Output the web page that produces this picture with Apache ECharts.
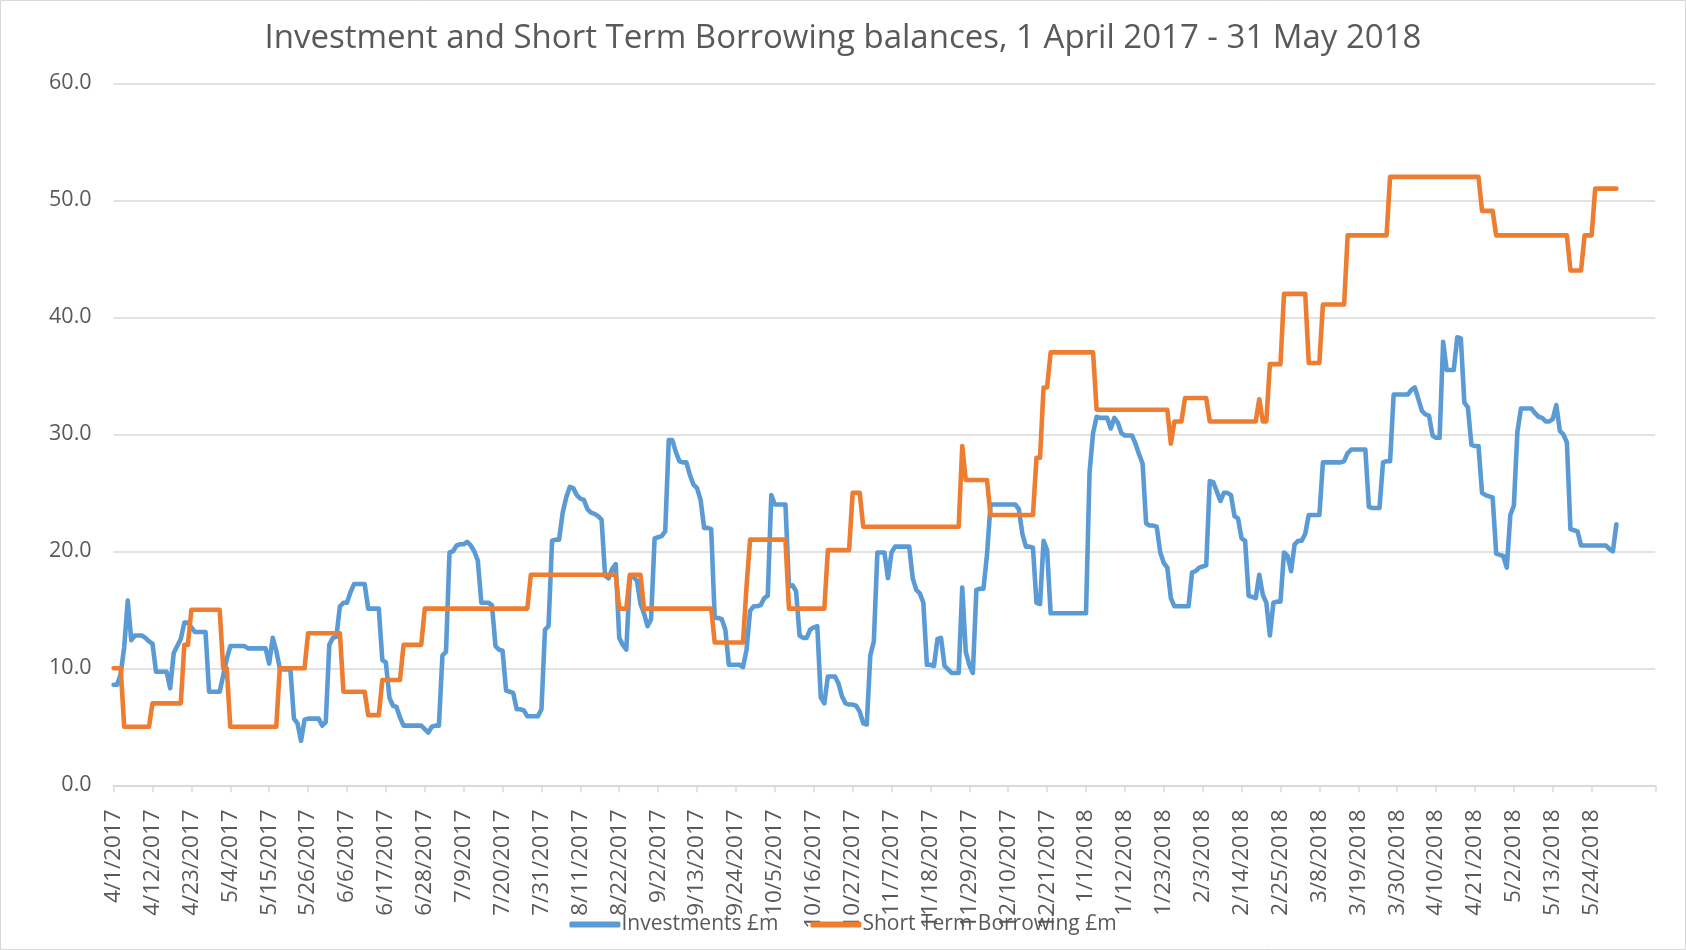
<!DOCTYPE html>
<html><head><meta charset="utf-8">
<script src="https://cdn.jsdelivr.net/npm/echarts@6/dist/echarts.min.js"></script>
<style>html,body{margin:0;padding:0;background:#fff}#c{width:1686px;height:950px}</style>
</head><body><div id="c"></div>
<script>
// ---- data ----
const titleText = 'Investment and Short Term Borrowing balances, 1 April 2017 - 31 May 2018';
const seriesNames = ['Investments £m', 'Short Term Borrowing £m'];
const startDate = [2017, 4, 1];      // first category (M/D/YYYY labels)
const axisDays = 437;                // category slots on the axis (data fills the first 426)
const tickLabels = ['4/1/2017','4/12/2017','4/23/2017','5/4/2017','5/15/2017','5/26/2017','6/6/2017','6/17/2017','6/28/2017','7/9/2017','7/20/2017','7/31/2017','8/11/2017','8/22/2017','9/2/2017','9/13/2017','9/24/2017','10/5/2017','10/16/2017','10/27/2017','11/7/2017','11/18/2017','11/29/2017','12/10/2017','12/21/2017','1/1/2018','1/12/2018','1/23/2018','2/3/2018','2/14/2018','2/25/2018','3/8/2018','3/19/2018','3/30/2018','4/10/2018','4/21/2018','5/2/2018','5/13/2018','5/24/2018'];
const yTicks = [0, 10, 20, 30, 40, 50, 60];

const investments = [
  // Apr 2017
  8.6,8.6,9.5,11.8,15.8,12.4,12.8,12.8,12.8,12.6,12.3,12.1,9.7,9.7,9.7,9.7,8.3,11.3,11.9,12.5,13.9,13.9,13.5,13.1,13.1,13.1,13.1,8.0,8.0,8.0,
  // May 2017
  8.0,9.4,10.8,11.9,11.9,11.9,11.9,11.9,11.7,11.7,11.7,11.7,11.7,11.7,10.4,12.6,11.5,10.0,9.9,9.9,9.9,5.7,5.3,3.8,5.6,5.7,5.7,5.7,5.7,5.1,5.4,
  // Jun 2017
  12.0,12.6,12.7,15.3,15.6,15.6,16.5,17.2,17.2,17.2,17.2,15.1,15.1,15.1,15.1,10.7,10.5,7.5,6.8,6.7,5.8,5.1,5.1,5.1,5.1,5.1,5.1,4.8,4.5,5.0,
  // Jul 2017
  5.1,5.1,11.1,11.4,19.9,20.0,20.5,20.6,20.6,20.8,20.5,20.0,19.2,15.6,15.6,15.6,15.4,11.9,11.6,11.5,8.1,8.0,7.9,6.5,6.5,6.4,5.9,5.9,5.9,5.9,6.5,
  // Aug 2017
  13.3,13.6,20.9,21.0,21.0,23.3,24.6,25.5,25.4,24.8,24.5,24.4,23.6,23.3,23.2,23.0,22.7,17.9,17.7,18.5,18.9,12.6,12.0,11.6,17.8,17.8,17.5,15.5,14.7,13.6,14.2,
  // Sep 2017
  21.1,21.2,21.3,21.7,29.5,29.5,28.5,27.7,27.6,27.6,26.5,25.7,25.4,24.4,22.0,22.0,21.9,14.3,14.3,14.2,13.3,10.3,10.3,10.3,10.3,10.1,11.6,14.9,15.3,15.3,
  // Oct 2017
  15.4,16.0,16.2,24.8,24.0,24.0,24.0,24.0,17.0,17.1,16.6,12.8,12.6,12.6,13.3,13.5,13.6,7.5,7.0,9.3,9.3,9.3,8.7,7.6,7.0,6.9,6.9,6.8,6.3,5.3,5.2,
  // Nov 2017
  11.1,12.3,19.9,19.9,19.9,17.7,19.9,20.4,20.4,20.4,20.4,20.4,17.7,16.7,16.4,15.6,10.3,10.3,10.2,12.5,12.6,10.2,9.9,9.6,9.6,9.6,16.9,11.4,10.3,9.6,
  // Dec 2017
  16.7,16.8,16.8,19.7,24.0,24.0,24.0,24.0,24.0,24.0,24.0,24.0,23.6,21.5,20.4,20.4,20.3,15.6,15.5,20.9,20.1,14.7,14.7,14.7,14.7,14.7,14.7,14.7,14.7,14.7,14.7,
  // Jan 2018
  14.7,26.7,30.1,31.5,31.4,31.4,31.4,30.5,31.4,31.0,30.1,29.9,29.9,29.9,29.2,28.3,27.5,22.4,22.2,22.2,22.1,19.9,19.0,18.6,16.0,15.3,15.3,15.3,15.3,15.3,18.2,
  // Feb 2018
  18.3,18.6,18.7,18.8,26.0,25.9,25.1,24.3,25.0,25.0,24.8,23.0,22.8,21.1,20.9,16.2,16.1,16.0,18.0,16.3,15.6,12.8,15.6,15.7,15.7,19.9,19.6,18.3,
  // Mar 2018
  20.6,20.9,20.9,21.5,23.1,23.1,23.1,23.1,27.6,27.6,27.6,27.6,27.6,27.6,27.7,28.4,28.7,28.7,28.7,28.7,28.7,23.8,23.7,23.7,23.7,27.6,27.7,27.7,33.4,33.4,33.4,
  // Apr 2018
  33.4,33.4,33.8,34.0,33.0,32.0,31.7,31.6,29.9,29.7,29.7,37.9,35.5,35.5,35.5,38.3,38.2,32.7,32.3,29.1,29.0,29.0,25.0,24.8,24.7,24.6,19.8,19.7,19.6,18.6,
  // May 2018
  23.1,23.9,30.2,32.2,32.2,32.2,32.2,31.8,31.5,31.4,31.1,31.1,31.3,32.5,30.3,30.0,29.3,21.9,21.8,21.7,20.5,20.5,20.5,20.5,20.5,20.5,20.5,20.5,20.2,20.0,22.3
];

const borrowing = [
  // Apr 2017
  10,10,10,5,5,5,5,5,5,5,5,7,7,7,7,7,7,7,7,7,12,12,15,15,15,15,15,15,15,15,
  // May 2017
  15,10,10,5,5,5,5,5,5,5,5,5,5,5,5,5,5,10,10,10,10,10,10,10,10,13,13,13,13,13,13,
  // Jun 2017
  13,13,13,13,8,8,8,8,8,8,8,6,6,6,6,9,9,9,9,9,9,12,12,12,12,12,12,15.1,15.1,15.1,
  // Jul 2017
  15.1,15.1,15.1,15.1,15.1,15.1,15.1,15.1,15.1,15.1,15.1,15.1,15.1,15.1,15.1,15.1,15.1,15.1,15.1,15.1,15.1,15.1,15.1,15.1,15.1,15.1,15.1,18,18,18,18,
  // Aug 2017
  18,18,18,18,18,18,18,18,18,18,18,18,18,18,18,18,18,18,18,18,18,15.1,15.1,15.1,18,18,18,18,15.1,15.1,15.1,
  // Sep 2017
  15.1,15.1,15.1,15.1,15.1,15.1,15.1,15.1,15.1,15.1,15.1,15.1,15.1,15.1,15.1,15.1,15.1,12.2,12.2,12.2,12.2,12.2,12.2,12.2,12.2,12.2,17,21,21,21,
  // Oct 2017
  21,21,21,21,21,21,21,21,15.1,15.1,15.1,15.1,15.1,15.1,15.1,15.1,15.1,15.1,15.1,20.1,20.1,20.1,20.1,20.1,20.1,20.1,25,25,25,22.1,22.1,
  // Nov 2017
  22.1,22.1,22.1,22.1,22.1,22.1,22.1,22.1,22.1,22.1,22.1,22.1,22.1,22.1,22.1,22.1,22.1,22.1,22.1,22.1,22.1,22.1,22.1,22.1,22.1,22.1,29,26.1,26.1,26.1,
  // Dec 2017
  26.1,26.1,26.1,26.1,23.1,23.1,23.1,23.1,23.1,23.1,23.1,23.1,23.1,23.1,23.1,23.1,23.1,28,28,34,34,37,37,37,37,37,37,37,37,37,37,
  // Jan 2018
  37,37,37,32.1,32.1,32.1,32.1,32.1,32.1,32.1,32.1,32.1,32.1,32.1,32.1,32.1,32.1,32.1,32.1,32.1,32.1,32.1,32.1,32.1,29.2,31.1,31.1,31.1,33.1,33.1,33.1,
  // Feb 2018
  33.1,33.1,33.1,33.1,31.1,31.1,31.1,31.1,31.1,31.1,31.1,31.1,31.1,31.1,31.1,31.1,31.1,31.1,33,31.1,31.1,36,36,36,36,42,42,42,
  // Mar 2018
  42,42,42,42,36.1,36.1,36.1,36.1,41.1,41.1,41.1,41.1,41.1,41.1,41.1,47,47,47,47,47,47,47,47,47,47,47,47,52,52,52,52,
  // Apr 2018
  52,52,52,52,52,52,52,52,52,52,52,52,52,52,52,52,52,52,52,52,52,52,49.1,49.1,49.1,49.1,47,47,47,47,
  // May 2018
  47,47,47,47,47,47,47,47,47,47,47,47,47,47,47,47,47,44,44,44,44,47,47,47,51,51,51,51,51,51,51
];

// ---- category axis labels: one slot per day ----
const categories = [];
for (let i = 0; i < axisDays; i++) {
  const dt = new Date(Date.UTC(startDate[0], startDate[1] - 1, startDate[2] + i));
  categories.push((dt.getUTCMonth() + 1) + '/' + dt.getUTCDate() + '/' + dt.getUTCFullYear());
}

const TXT = '#595959';
const FONT = 'Open Sans';
const chart = echarts.init(document.getElementById('c'), null, {renderer: 'canvas'});
chart.setOption({
  animation: false,
  backgroundColor: '#ffffff',
  color: ['#5B9BD5', '#ED7D31'],
  title: {
    text: titleText, left: 'center', top: 17,
    textStyle: {color: TXT, fontFamily: FONT, fontSize: 33, fontWeight: 'normal'}
  },
  grid: {left: 113.6, right: 30.7, top: 83.3, bottom: 164.7, containLabel: false},
  legend: {
    data: seriesNames, left: 'center', top: 909, itemWidth: 51, itemHeight: 6, itemGap: 32,
    icon: 'roundRect',
    textStyle: {color: TXT, fontFamily: FONT, fontSize: 21, padding: [0, 0, 0, -4]}
  },
  xAxis: {
    type: 'category', data: categories, boundaryGap: false,
    axisLine: {lineStyle: {color: '#D9D9D9', width: 2}},
    axisTick: {show: true, length: 7, lineStyle: {color: '#D9D9D9', width: 1.5},
      interval: (i, v) => tickLabels.includes(v) || i === axisDays - 1},
    axisLabel: {rotate: 90, margin: 24, color: TXT, fontFamily: FONT, fontSize: 22.5,
      padding: [12, 0, 0, 0],
      interval: (i, v) => tickLabels.includes(v)},
    splitLine: {show: false}
  },
  yAxis: {
    type: 'value', min: yTicks[0], max: yTicks[yTicks.length - 1], interval: yTicks[1] - yTicks[0],
    axisLine: {show: false}, axisTick: {show: false},
    axisLabel: {margin: 22, color: TXT, fontFamily: FONT, fontSize: 21.5, padding: [4, 0, 0, 0],
      formatter: v => v.toFixed(1)},
    splitLine: {lineStyle: {color: '#D9D9D9', width: 1.5}}
  },
  series: [
    {name: seriesNames[0], type: 'line', data: investments, showSymbol: false, symbol: 'none',
      lineStyle: {width: 4.6, cap: 'round', join: 'round'}},
    {name: seriesNames[1], type: 'line', data: borrowing, showSymbol: false, symbol: 'none',
      lineStyle: {width: 4.6, cap: 'round', join: 'round'}}
  ],
  graphic: [{type: 'rect', shape: {x: 0.5, y: 0.5, width: 1685, height: 949},
    style: {fill: 'none', stroke: '#D9D9D9', lineWidth: 1}, silent: true}]
});
</script></body></html>
